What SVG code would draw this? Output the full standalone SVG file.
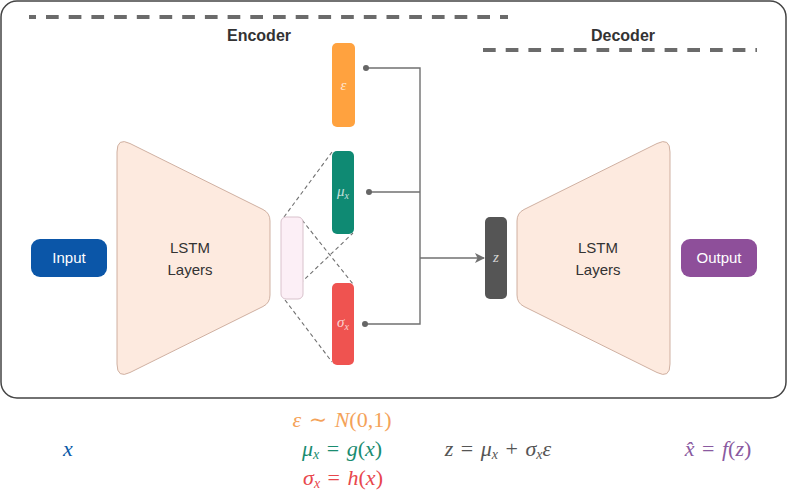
<svg xmlns="http://www.w3.org/2000/svg" width="787" height="493" viewBox="0 0 787 493">
<defs>
<style>
.lbl{font-family:"Liberation Sans",Arial,sans-serif;font-size:15px;fill:#333;text-anchor:middle}
.hdr{font-family:"Liberation Sans",Arial,sans-serif;font-size:16px;font-weight:bold;fill:#333;text-anchor:middle}
.wht{font-family:"Liberation Sans",Arial,sans-serif;font-size:15px;fill:#fff;text-anchor:middle}
.math{font-family:"Liberation Serif","DejaVu Serif",serif;font-size:22px;text-anchor:middle;word-spacing:2px}
.it{font-style:italic}
.sub{font-size:14px;font-style:italic}
.bl{font-family:"Liberation Serif","DejaVu Serif",serif;font-style:italic;font-size:15px;fill:#fff;fill-opacity:0.75;text-anchor:middle}
.dash{fill:none;stroke:#6b6b6b;stroke-width:4;stroke-dasharray:12.7 10}
.conn{fill:none;stroke:#707070;stroke-width:1.4}
.xd{fill:none;stroke:#707070;stroke-width:1.1;stroke-dasharray:4 3}
.trap{fill:#FDEADF;stroke:#C9A898;stroke-width:0.9}
</style>
<marker id="arr" viewBox="0 0 10 10" refX="9" refY="5" markerWidth="10" markerHeight="10" markerUnits="userSpaceOnUse" orient="auto">
<path d="M0,0 L10,5 L0,10 L2.5,5 Z" fill="#707070"/>
</marker>
<path id="trapShape" d="M117,152 Q117,137 130,143.5 L263,209.5 Q270,213 270,221 L270,295 Q270,303 263,306.5 L130,372.5 Q117,379 117,364 Z"/>
</defs>

<rect x="1" y="1" width="785" height="397" rx="16" ry="16" fill="#fff" stroke="#444" stroke-width="1.5"/>

<g id="headers">
<line class="dash" x1="29" y1="17" x2="508" y2="17" stroke-dashoffset="5.7"/>
<line class="dash" x1="483" y1="50" x2="757" y2="50"/>
<text class="hdr" x="259" y="41">Encoder</text>
<text class="hdr" x="623" y="41">Decoder</text>
</g>

<g id="connectors">
<line class="xd" x1="284" y1="217" x2="332" y2="152"/>
<line class="xd" x1="302" y1="220" x2="353" y2="284"/>
<line class="xd" x1="285" y1="298" x2="353" y2="233"/>
<line class="xd" x1="285" y1="300" x2="332" y2="362"/>
<polyline class="conn" points="366,68 420,68 420,324 365,324"/>
<line class="conn" x1="369" y1="192" x2="420" y2="192"/>
<line class="conn" x1="420" y1="258" x2="484" y2="258" marker-end="url(#arr)"/>
<circle cx="366" cy="68" r="3" fill="#666"/>
<circle cx="369" cy="192" r="3" fill="#666"/>
<circle cx="365" cy="324" r="3" fill="#666"/>
</g>

<g id="input">
<rect x="31" y="239" width="76" height="38" rx="9" fill="#0B56A8"/>
<text class="wht" x="69" y="263">Input</text>
</g>

<g id="encoder-lstm">
<use href="#trapShape" class="trap"/>
<text class="lbl" x="190" y="253">LSTM</text>
<text class="lbl" x="190" y="275">Layers</text>
</g>

<g id="hidden">
<rect x="281" y="217" width="22" height="82" rx="5" fill="#FCEFF6" stroke="#D9C2CC" stroke-width="1"/>
</g>

<g id="epsilon">
<rect x="332" y="43" width="23" height="84" rx="5" fill="#FFA23F"/>
<text class="bl" x="343.5" y="90">ε</text>
</g>

<g id="mu">
<rect x="332" y="151" width="22" height="83" rx="5" fill="#0F8A73"/>
<text class="bl" x="343" y="196">μ<tspan font-size="10" dy="3">x</tspan></text>
</g>

<g id="sigma">
<rect x="332" y="283" width="22" height="82" rx="5" fill="#EF5350"/>
<text class="bl" x="343" y="327">σ<tspan font-size="10" dy="3">x</tspan></text>
</g>

<g id="z">
<rect x="485" y="217" width="22" height="82" rx="5" fill="#555555"/>
<text class="bl" x="496" y="262">z</text>
</g>

<g id="decoder-lstm">
<use href="#trapShape" class="trap" transform="translate(787,0) scale(-1,1)"/>
<text class="lbl" x="598" y="253">LSTM</text>
<text class="lbl" x="598" y="275">Layers</text>
</g>

<g id="output">
<rect x="681" y="239" width="76" height="38" rx="9" fill="#8E4F9A"/>
<text class="wht" x="719" y="263">Output</text>
</g>

<g id="formulas">
<text class="math" x="68" y="456" fill="#0B5AA8"><tspan class="it">x</tspan></text>
<text class="math" x="342" y="427" fill="#F4A259"><tspan class="it">ε</tspan> ∼ <tspan class="it">N</tspan>(0,1)</text>
<text class="math" x="342" y="456" fill="#1A8C70"><tspan class="it">μ</tspan><tspan class="sub" dy="3">x</tspan><tspan dy="-3"> = </tspan><tspan class="it">g</tspan>(<tspan class="it">x</tspan>)</text>
<text class="math" x="343" y="485" fill="#E8474C"><tspan class="it">σ</tspan><tspan class="sub" dy="3">x</tspan><tspan dy="-3"> = </tspan><tspan class="it">h</tspan>(<tspan class="it">x</tspan>)</text>
<text class="math" x="498" y="456" fill="#555"><tspan class="it">z</tspan> = <tspan class="it">μ</tspan><tspan class="sub" dy="3">x</tspan><tspan dy="-3"> + </tspan><tspan class="it">σ</tspan><tspan class="sub" dy="3">x</tspan><tspan class="it" dy="-3">ε</tspan></text>
<text class="math" x="718" y="456" fill="#8A5AA0"><tspan class="it">x̂</tspan> = <tspan class="it">f</tspan>(<tspan class="it">z</tspan>)</text>
</g>
</svg>
